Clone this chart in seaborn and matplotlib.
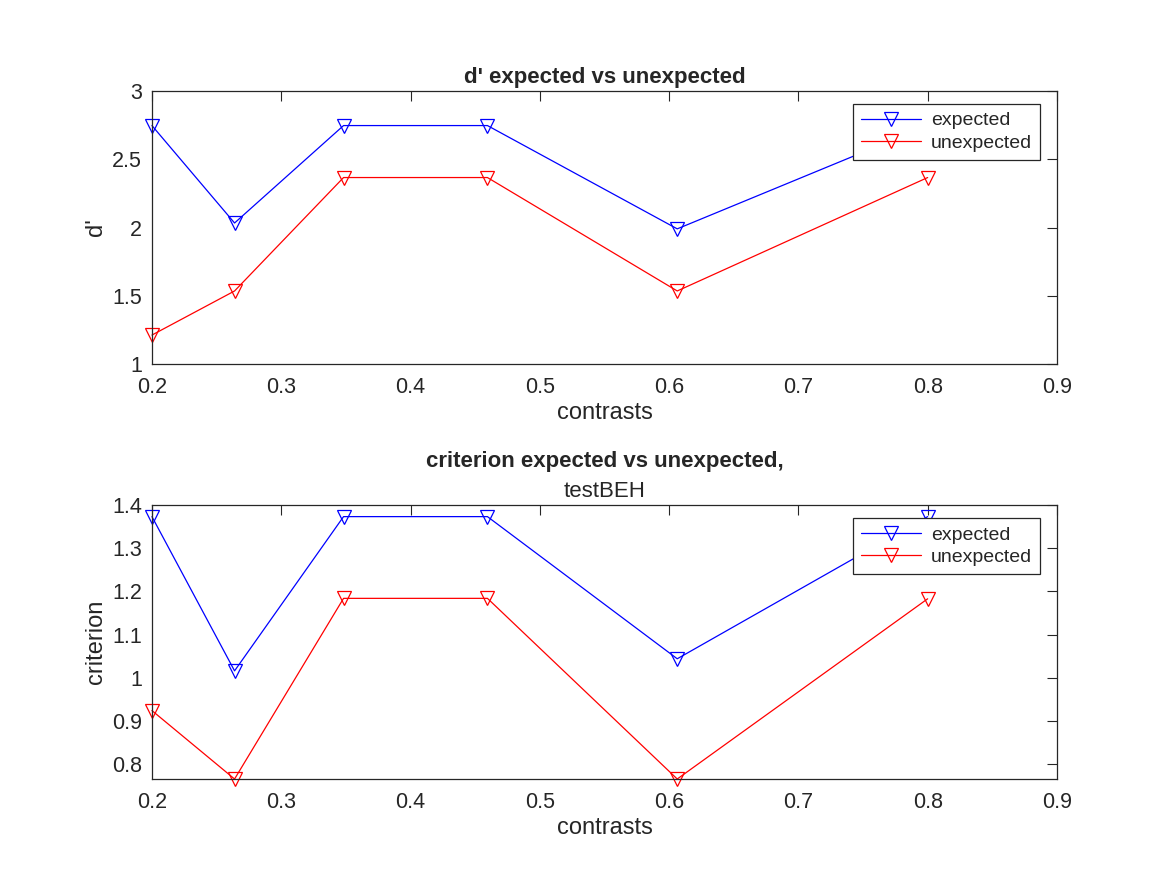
import numpy as np
import pandas as pd
import seaborn as sns
import matplotlib
matplotlib.use('Agg')
import matplotlib.pyplot as plt
from matplotlib.ticker import FuncFormatter


# contrast levels (x) and the two measures per condition
contrasts = [0.2, 0.2639, 0.3482, 0.4595, 0.6063, 0.8]
dprime_expected = [2.7468, 2.033, 2.7468, 2.7468, 1.99, 2.7468]
dprime_unexpected = [1.212, 1.535, 2.366, 2.366, 1.535, 2.366]
crit_expected = [1.3734, 1.016, 1.3734, 1.3734, 1.044, 1.3734]
crit_unexpected = [0.924, 0.7654, 1.184, 1.184, 0.7654, 1.183]

xticks = [0.2, 0.3, 0.4, 0.5, 0.6, 0.7, 0.8, 0.9]
dprime_ticks = [1, 1.5, 2, 2.5, 3]
crit_ticks = [0.8, 0.9, 1.0, 1.1, 1.2, 1.3, 1.4]


sns.set_style('white')
plt.rcParams['font.family'] = ['Liberation Sans', 'DejaVu Sans']

fig = plt.figure(figsize=(11.67, 8.75), dpi=100)
ax1 = fig.add_axes([0.1302, 0.584, 0.7755, 0.312])
ax2 = fig.add_axes([0.1302, 0.1097, 0.7755, 0.313])

line_kw = dict(marker='v', markersize=10.5, markerfacecolor='none',
               markeredgewidth=0.9, linewidth=0.9)


def style_axes(ax, yticks, ylim, ylabel):
    ax.set_xlim(0.2, 0.9)
    ax.set_ylim(*ylim)
    ax.set_xticks(xticks)
    ax.set_yticks(yticks)
    fmt = FuncFormatter(lambda v, p: f'{v:g}')
    ax.xaxis.set_major_formatter(fmt)
    ax.yaxis.set_major_formatter(fmt)
    ax.tick_params(direction='in', length=7, width=0.8, top=True, right=True,
                   labelsize=15.5, colors='#262626')
    ax.tick_params(axis='x', pad=9)
    ax.tick_params(axis='y', pad=7)
    for s in ax.spines.values():
        s.set_color('#262626')
        s.set_linewidth(0.9)
    ax.set_xlabel('contrasts', fontsize=17, color='#262626', labelpad=3)
    ax.set_ylabel(ylabel, fontsize=17, color='#262626', labelpad=4)
    leg = ax.legend(loc='upper right', bbox_to_anchor=(0.981, 0.952),
                    borderaxespad=0, fancybox=False, framealpha=1,
                    edgecolor='#262626', fontsize=14, handlelength=3.1,
                    borderpad=0.4, labelspacing=0.25, handletextpad=0.5)
    leg.get_frame().set_linewidth(0.9)


for ax, exp_vals, unexp_vals in [(ax1, dprime_expected, dprime_unexpected),
                                 (ax2, crit_expected, crit_unexpected)]:
    sns.lineplot(x=contrasts, y=exp_vals, color='blue', markeredgecolor='blue',
                 label='expected', ax=ax, **line_kw)
    sns.lineplot(x=contrasts, y=unexp_vals, color='red', markeredgecolor='red',
                 label='unexpected', ax=ax, **line_kw)
    for ln in ax.lines:
        ln.set_clip_on(False)

# d' panel
style_axes(ax1, dprime_ticks, (1, 3), "d'")
ax1.set_title("d' expected vs unexpected", fontsize=16, fontweight='bold', pad=6)

# criterion panel
style_axes(ax2, crit_ticks, (0.7654, 1.4), 'criterion')
ax2.set_title('testBEH', fontsize=16, pad=6)
ax2.annotate('criterion expected vs unexpected,', xy=(0.5, 1.0),
             xycoords='axes fraction', xytext=(0, 24), textcoords='offset points',
             ha='center', va='bottom', fontsize=16, fontweight='bold')

fig.savefig('out.png', dpi=100)
